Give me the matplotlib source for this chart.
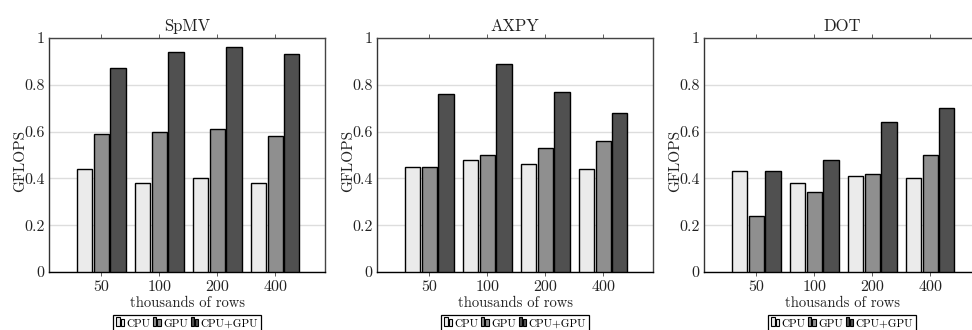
import matplotlib
matplotlib.use('Agg')
import matplotlib.pyplot as plt
import numpy as np
from matplotlib.patches import Rectangle
from matplotlib.legend_handler import HandlerBase

plt.rcParams['font.family'] = 'cmr10'
plt.rcParams['mathtext.fontset'] = 'cm'
plt.rcParams['axes.formatter.use_mathtext'] = True
plt.rcParams['axes.unicode_minus'] = False

rows = ['50', '100', '200', '400']
series = ['CPU', 'GPU', 'CPU+GPU']
titles = ['SpMV', 'AXPY', 'DOT']

spmv_cpu = [0.44, 0.38, 0.40, 0.38]
spmv_gpu = [0.59, 0.60, 0.61, 0.58]
spmv_both = [0.87, 0.94, 0.96, 0.93]

axpy_cpu = [0.45, 0.48, 0.46, 0.44]
axpy_gpu = [0.45, 0.50, 0.53, 0.56]
axpy_both = [0.76, 0.89, 0.77, 0.68]

dot_cpu = [0.43, 0.38, 0.41, 0.40]
dot_gpu = [0.24, 0.34, 0.42, 0.50]
dot_both = [0.43, 0.48, 0.64, 0.70]

yticks = [0, 0.2, 0.4, 0.6, 0.8, 1]
ytick_labels = ['0', '0.2', '0.4', '0.6', '0.8', '1']

colors = ['#ebebeb', '#8f8f8f', '#505050']

data = [
    [spmv_cpu, spmv_gpu, spmv_both],
    [axpy_cpu, axpy_gpu, axpy_both],
    [dot_cpu, dot_gpu, dot_both],
]


class TwoBars(HandlerBase):
    # pgfplots-style ybar legend image: two little bars
    def create_artists(self, legend, orig, xd, yd, w, h, fs, trans):
        fc = orig.get_facecolor()
        bw = w * 0.38
        r1 = Rectangle((xd + w * 0.05, yd), bw, h * 1.0, facecolor=fc,
                       edgecolor='black', lw=0.8, transform=trans)
        r2 = Rectangle((xd + w * 0.55, yd), bw, h * 0.7, facecolor=fc,
                       edgecolor='black', lw=0.8, transform=trans)
        return [r1, r2]


fig = plt.figure(figsize=(9.72, 3.3), dpi=100)

W, H = 972.0, 330.0
lefts = [49, 377, 704]
ax_w = 276
ax_bottom = 272
ax_top = 38

x = np.arange(len(rows))
bw = 0.26
off = 0.29

for i in range(3):
    ax = fig.add_axes([lefts[i] / W, (H - ax_bottom) / H, ax_w / W,
                       (ax_bottom - ax_top) / H])
    handles = []
    for j in range(3):
        b = ax.bar(x + (j - 1) * off, data[i][j], bw, color=colors[j],
                   edgecolor='black', linewidth=1.0, zorder=3, label=series[j])
        handles.append(b.patches[0])
    ax.set_xlim(-0.9, 3.86)
    ax.set_ylim(0, 1)
    ax.set_yticks(yticks)
    ax.set_yticklabels(ytick_labels, fontsize=11.5, color='#222222')
    ax.set_xticks(x)
    ax.set_xticklabels(rows, fontsize=11.5, color='#222222')
    ax.tick_params(axis='y', length=0, pad=3)
    ax.tick_params(axis='x', direction='out', length=3, width=0.6,
                   color='#444444', top=True, pad=3)
    ax.grid(axis='y', color='#dddddd', linewidth=1.0, zorder=0)
    for s in ax.spines.values():
        s.set_color('#444444')
        s.set_linewidth(1.0)
    ax.spines['bottom'].set_color('black')
    ax.spines['left'].set_color('#333333')
    ax.set_xlabel('thousands of rows', fontsize=10.5, color='#222222')
    ax.xaxis.set_label_coords(0.5, -0.105)
    ax.set_ylabel('GFLOPS', fontsize=11, color='#222222')
    ax.yaxis.set_label_coords(-0.078, 0.476)
    ax.text(0.5, 1.03, titles[i], transform=ax.transAxes, ha='center',
            va='baseline', fontsize=12, color='#222222')
    leg = ax.legend(handles=handles, labels=series, loc='upper center',
                    bbox_to_anchor=(0.5, -0.185), ncol=3, fontsize=8,
                    handler_map={Rectangle: TwoBars()},
                    handlelength=0.8, handleheight=0.9, handletextpad=0.15,
                    columnspacing=0.2, borderpad=0.25, borderaxespad=0,
                    fancybox=False, framealpha=1, edgecolor='black')
    leg.get_frame().set_linewidth(0.9)

fig.savefig('out.png', dpi=100)
